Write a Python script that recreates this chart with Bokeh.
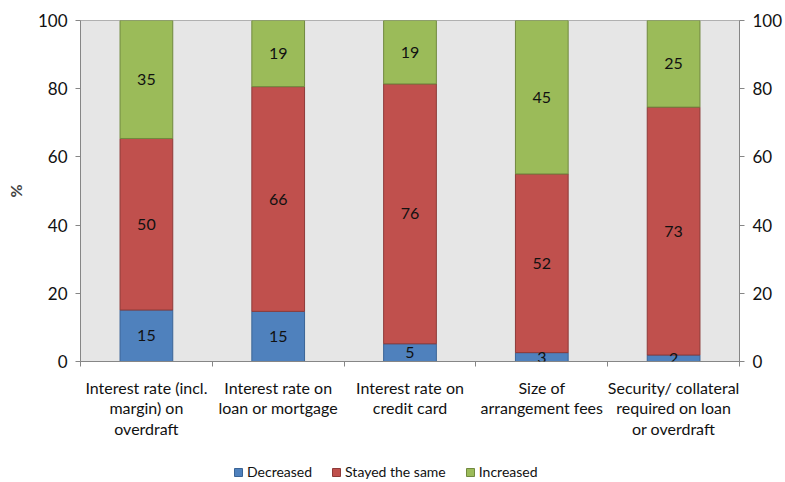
from bokeh.plotting import figure
from bokeh.models import (ColumnDataSource, LinearAxis, FixedTicker, Legend, LegendItem,
                          LabelSet, Range1d)
from bokeh.layouts import column
from bokeh.core.properties import value
from bokeh.embed import file_html
from bokeh.resources import INLINE

categories = ["Interest rate (incl.\nmargin) on\noverdraft",
              "Interest rate on\nloan or mortgage",
              "Interest rate on\ncredit card",
              "Size of\narrangement fees",
              "Security/ collateral\nrequired on loan\nor overdraft"]
decreased = [15.1, 14.7, 5.2, 2.6, 1.9]
stayed = [50.3, 65.9, 76.2, 52.4, 72.7]
increased = [34.6, 19.4, 18.6, 45.0, 25.4]
series_names = ["Decreased", "Stayed the same", "Increased"]
y_ticks = [0, 20, 40, 60, 80, 100]

FONT = "Lato"
fills = ["#4f81bd", "#c0504d", "#9bbb59"]
edges = ["#3a6496", "#8e3a38", "#71893f"]

n = len(categories)
xs = [i + 0.5 for i in range(n)]
series = [decreased, stayed, increased]

p = figure(width=785, height=462, x_range=Range1d(0, n), y_range=Range1d(0, 100),
           output_backend="svg", toolbar_location=None,
           min_border_left=80, min_border_right=43, min_border_top=20, min_border_bottom=101)
p.background_fill_color = "#e6e6e6"
p.border_fill_color = "white"
p.outline_line_color = "#b0b0b0"
p.xgrid.visible = False
p.ygrid.visible = False

# legend in a slim figure underneath (bars there lie outside its visible range)
lg = figure(width=785, height=20, output_backend="svg", toolbar_location=None,
            min_border_left=0, min_border_right=0, min_border_top=0, min_border_bottom=0,
            x_range=Range1d(0, n), y_range=Range1d(200, 201))
lg.axis.visible = False
lg.grid.visible = False
lg.outline_line_color = None

bottoms = [0.0] * n
items = []
for name, vals, fc, ec in zip(series_names, series, fills, edges):
    tops = [b + v for b, v in zip(bottoms, vals)]
    src = ColumnDataSource(dict(x=xs, bottom=bottoms, top=tops,
                                mid=[(b + t) / 2 for b, t in zip(bottoms, tops)],
                                lab=[f"{v:.0f}" for v in vals]))
    p.vbar(x="x", bottom="bottom", top="top", width=0.4, source=src,
           fill_color=fc, line_color=ec, line_width=1)
    ls = LabelSet(x="x", y="mid", text="lab", source=src, text_align="center",
                  text_baseline="middle", text_font=value(FONT), text_font_size="16px",
                  text_color="#111111")
    p.add_layout(ls)
    r = lg.vbar(x="x", bottom="bottom", top="top", width=0.4, source=src,
                fill_color=fc, line_color=ec, line_width=1)
    items.append(LegendItem(label=name, renderers=[r]))
    bottoms = tops

# x axis: labels at centres, tick marks at boundaries
xa = p.xaxis[0]
xa.ticker = FixedTicker(ticks=xs, minor_ticks=list(range(n + 1)))
xa.major_label_overrides = {x: c for x, c in zip(xs, categories)}
xa.major_tick_line_color = None
xa.minor_tick_line_color = "#868686"
xa.minor_tick_out = 5
xa.minor_tick_in = 0
xa.axis_line_color = "#868686"
xa.major_label_text_font = FONT
xa.major_label_text_font_size = "16px"
xa.major_label_text_color = "#111111"
xa.major_label_text_line_height = 1.1
xa.major_label_standoff = 10

ya = p.yaxis[0]
ya.ticker = FixedTicker(ticks=y_ticks)
ya.axis_label = "%"
ya.axis_label_text_font = FONT
ya.axis_label_text_font_style = "bold"
ya.axis_label_text_font_size = "16px"
ya.axis_label_standoff = 10

yr = LinearAxis(ticker=FixedTicker(ticks=y_ticks))
p.add_layout(yr, "right")
for ax in (ya, yr):
    ax.minor_tick_line_color = None
    ax.major_tick_out = 5
    ax.major_tick_in = 0
    ax.major_tick_line_color = "#868686"
    ax.axis_line_color = "#868686"
    ax.major_label_text_font = FONT
    ax.major_label_text_font_size = "17px"
    ax.major_label_text_color = "#111111"
    ax.major_label_standoff = 8

legend = Legend(items=items, orientation="horizontal", location=(153, 2),
                label_text_font=FONT, label_text_font_size="14px",
                label_text_color="#111111", glyph_width=10, glyph_height=10,
                spacing=19, border_line_color=None, background_fill_alpha=0,
                margin=0, padding=0, label_standoff=4)
lg.add_layout(legend, "center")

layout = column(p, lg, spacing=0)
open("out.html", "w").write(file_html(layout, INLINE))
